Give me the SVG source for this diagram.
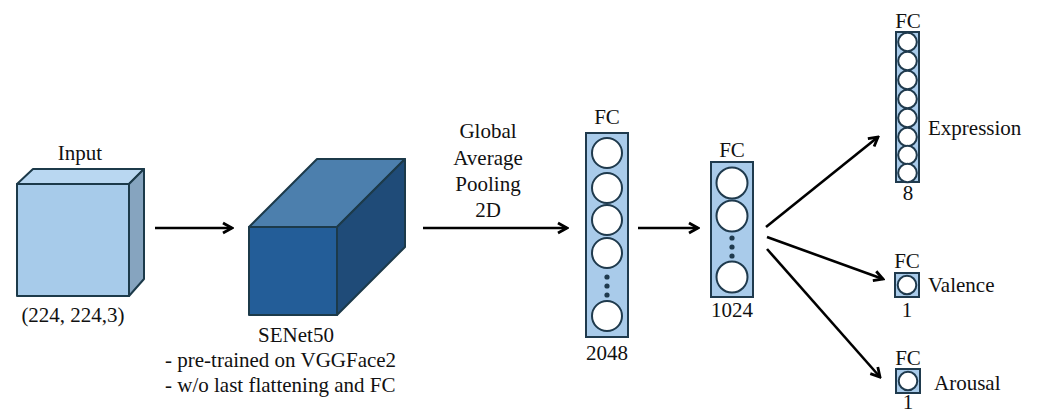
<svg xmlns="http://www.w3.org/2000/svg" width="1040" height="412" viewBox="0 0 1040 412" font-family="Liberation Serif, DejaVu Serif, serif">
  <style>
    text { font-family: 'Liberation Serif', 'DejaVu Serif', serif; font-size: 21px; fill: #111; }
    .mid { text-anchor: middle; }
    .edge { stroke: #1c3a4a; stroke-width: 2; stroke-linejoin: round; }
    .layer { fill: #a9cbea; stroke: #1f3a4d; stroke-width: 2; }
    .unit { fill: #ffffff; stroke: #1f3a4d; stroke-width: 2; }
    .dot { fill: #1f3a4d; }
    .conn { stroke: #000; stroke-width: 2.6; fill: none; }
  </style>
  <defs>
    <marker id="arrow" markerUnits="userSpaceOnUse" markerWidth="14" markerHeight="14" viewBox="0 0 14 14" refX="12" refY="7" orient="auto">
      <path d="M3,2 L12,7 L3,12" fill="none" stroke="#000" stroke-width="2.8" stroke-linejoin="miter"/>
    </marker>
  </defs>

  <rect width="1040" height="412" fill="#ffffff"/>

  <!-- input volume -->
  <g id="input">
    <polygon class="edge" points="17,184 33,169 144,169 129,184" fill="#b9d7f1"/>
    <polygon class="edge" points="129,184 144,169 144,279 129,296" fill="#86a4bf"/>
    <rect class="edge" x="17" y="184" width="112" height="112" fill="#a7cbea"/>
    <text class="mid" x="80" y="160">Input</text>
    <text class="mid" x="73" y="322">(224, 224,3)</text>
  </g>

  <!-- backbone block -->
  <g id="senet50">
    <polygon class="edge" points="249,227 317,159 405,159 337,227" fill="#4c7fad" stroke="#173047"/>
    <polygon class="edge" points="337,227 405,159 405,247 337,315" fill="#1f4b78" stroke="#173047"/>
    <rect class="edge" x="249" y="227" width="88" height="88" fill="#235d98" stroke="#173047"/>
    <text class="mid" x="296" y="342">SENet50</text>
    <text x="165" y="367">- pre-trained on VGGFace2</text>
    <text x="165" y="392">- w/o last flattening and FC</text>
  </g>

  <!-- pooling label -->
  <g id="gap-label">
    <text class="mid" x="488" y="138">Global</text>
    <text class="mid" x="488" y="165">Average</text>
    <text class="mid" x="488" y="191">Pooling</text>
    <text class="mid" x="488" y="217">2D</text>
  </g>

  <!-- dense 2048 -->
  <g id="fc2048">
    <text class="mid" x="607" y="124">FC</text>
    <rect class="layer" x="586" y="133" width="42" height="204"/>
    <circle class="unit" cx="607" cy="153" r="15"/>
    <circle class="unit" cx="607" cy="188" r="15"/>
    <circle class="unit" cx="607" cy="220" r="15"/>
    <circle class="unit" cx="607" cy="253" r="15"/>
    <circle class="dot" cx="607" cy="277" r="2.6"/>
    <circle class="dot" cx="607" cy="286" r="2.6"/>
    <circle class="dot" cx="607" cy="295" r="2.6"/>
    <circle class="unit" cx="607" cy="316" r="15"/>
    <text class="mid" x="607" y="360">2048</text>
  </g>

  <!-- dense 1024 -->
  <g id="fc1024">
    <text class="mid" x="732" y="157">FC</text>
    <rect class="layer" x="711" y="162" width="42" height="135"/>
    <circle class="unit" cx="732" cy="183" r="15.5"/>
    <circle class="unit" cx="732" cy="216" r="15.5"/>
    <circle class="dot" cx="732" cy="238" r="2.6"/>
    <circle class="dot" cx="732" cy="247" r="2.6"/>
    <circle class="dot" cx="732" cy="256" r="2.6"/>
    <circle class="unit" cx="732" cy="277" r="15.5"/>
    <text class="mid" x="732" y="317">1024</text>
  </g>

  <!-- expression head -->
  <g id="fc-expression">
    <text class="mid" x="908" y="28">FC</text>
    <rect class="layer" x="896" y="32" width="23" height="150" stroke-width="1.6"/>
    <g class="unit" stroke-width="1.6">
      <circle cx="907.5" cy="42" r="9.3"/>
      <circle cx="907.5" cy="61" r="9.3"/>
      <circle cx="907.5" cy="80" r="9.3"/>
      <circle cx="907.5" cy="99" r="9.3"/>
      <circle cx="907.5" cy="118" r="9.3"/>
      <circle cx="907.5" cy="137" r="9.3"/>
      <circle cx="907.5" cy="155" r="9.3"/>
      <circle cx="907.5" cy="173" r="9.3"/>
    </g>
    <text class="mid" x="908" y="200">8</text>
    <text x="928" y="135">Expression</text>
  </g>

  <!-- valence head -->
  <g id="fc-valence">
    <text class="mid" x="907" y="268">FC</text>
    <rect class="layer" x="895" y="273" width="24" height="24" stroke-width="1.6"/>
    <circle class="unit" cx="907" cy="285" r="9.3" stroke-width="1.6"/>
    <text class="mid" x="907" y="317">1</text>
    <text x="928" y="292">Valence</text>
  </g>

  <!-- arousal head -->
  <g id="fc-arousal">
    <text class="mid" x="908" y="365">FC</text>
    <rect class="layer" x="896" y="369" width="24" height="24" stroke-width="1.6"/>
    <circle class="unit" cx="908" cy="381" r="9.3" stroke-width="1.6"/>
    <text class="mid" x="908" y="409">1</text>
    <text x="934" y="390">Arousal</text>
  </g>

  <!-- connectors -->
  <g id="connectors" class="conn" marker-end="url(#arrow)">
    <line x1="155" y1="228" x2="232" y2="228"/>
    <line x1="423" y1="228" x2="567" y2="228"/>
    <line x1="638" y1="228" x2="698" y2="228"/>
    <line x1="766" y1="227" x2="878" y2="137"/>
    <line x1="767" y1="237" x2="883" y2="279"/>
    <line x1="767" y1="249" x2="880" y2="377"/>
  </g>
</svg>
